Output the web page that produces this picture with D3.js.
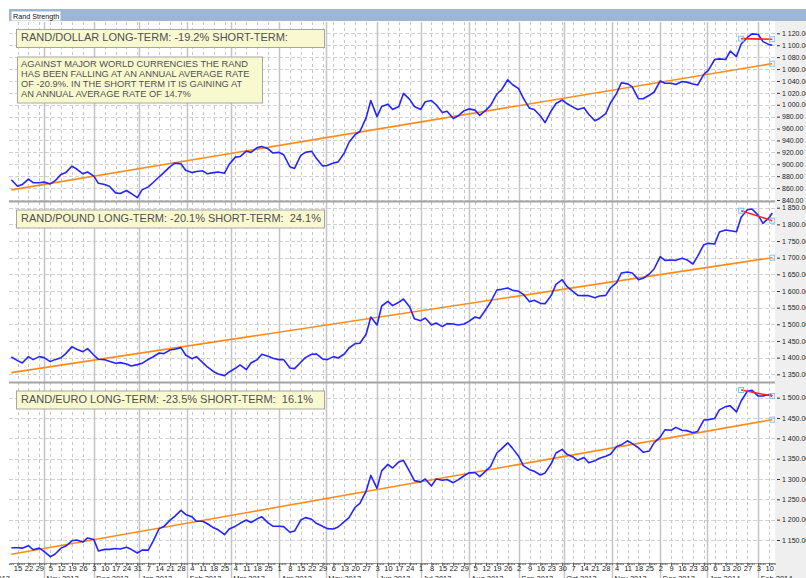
<!DOCTYPE html>
<html>
<head>
<meta charset="utf-8">
<title>Rand Strength</title>
<script src="https://cdn.jsdelivr.net/npm/d3@7"></script>
<style>
  html, body { margin: 0; padding: 0; background: #fff; }
  svg { display: block; font-family: "Liberation Sans", Arial, sans-serif; }
  text { white-space: pre; }
</style>
</head>
<body>
<svg id="chart" width="806" height="578"></svg>
<script>
// sample dates: every Monday and Thursday, plus the last close
const sampleDates = d3.timeDay.range(new Date(2012, 9, 11), new Date(2014, 1, 11))
  .filter(d => d.getDay() === 1 || d.getDay() === 4)
  .concat([new Date(2014, 1, 12)]);

const dollarValues = [
  874, 863, 866, 875, 869, 869, 870, 867, 872, 883,
  886, 897, 892, 884, 887, 880, 868, 866, 863, 852,
  851, 856, 851, 844, 857, 862, 869, 879, 886, 896,
  902, 901, 890, 886, 888, 889, 884, 886, 887, 885,
  900, 912, 913, 922, 920, 928, 930, 926, 919, 920,
  916, 896, 893, 915, 920, 922, 910, 897, 898, 902,
  904, 919, 937, 950, 955, 978, 1007, 980, 997, 1001,
  992, 997, 1019, 1009, 997, 992, 1005, 1007, 1000, 987,
  989, 977, 981, 990, 993, 991, 982, 991, 999, 1018,
  1025, 1042, 1034, 1027, 1011, 994, 992, 981, 970, 990,
  1002, 1008, 1002, 996, 992, 995, 984, 973, 977, 985,
  1003, 1019, 1037, 1035, 1030, 1010, 1010, 1016, 1021, 1040,
  1036, 1036, 1034, 1039, 1038, 1035, 1033, 1051, 1058, 1076,
  1077, 1076, 1090, 1081, 1102, 1113, 1119, 1118, 1106, 1101,
  1100
];

const poundValues = [
  1402, 1391, 1384, 1403, 1394, 1403, 1400, 1388, 1394, 1400,
  1412, 1433, 1425, 1418, 1427, 1408, 1395, 1394, 1389, 1383,
  1385, 1381, 1375, 1379, 1383, 1395, 1402, 1414, 1412, 1423,
  1425, 1430, 1408, 1397, 1403, 1385, 1372, 1358, 1351, 1346,
  1357, 1368, 1378, 1364, 1384, 1394, 1410, 1404, 1398, 1394,
  1394, 1369, 1367, 1386, 1400, 1410, 1411, 1396, 1394, 1403,
  1399, 1411, 1429, 1442, 1443, 1470, 1522, 1498, 1555, 1569,
  1556, 1566, 1576, 1552, 1517, 1511, 1519, 1498, 1504, 1493,
  1502, 1501, 1498, 1501, 1509, 1522, 1518, 1545, 1567, 1603,
  1605, 1609, 1602, 1599, 1590, 1568, 1572, 1563, 1562, 1587,
  1620, 1634, 1614, 1598, 1587, 1586, 1586, 1580, 1585, 1587,
  1609, 1625, 1654, 1657, 1654, 1634, 1638, 1651, 1666, 1703,
  1692, 1693, 1692, 1698, 1694, 1681, 1704, 1739, 1743, 1741,
  1777, 1783, 1781, 1778, 1821, 1844, 1846, 1827, 1803, 1820,
  1834
];

const euroValues = [
  1131, 1131, 1130, 1136, 1126, 1130, 1122, 1109, 1115, 1130,
  1135, 1148, 1150, 1145, 1155, 1151, 1123, 1127, 1127, 1129,
  1128, 1132, 1127, 1118, 1125, 1125, 1146, 1178, 1183, 1199,
  1208, 1223, 1213, 1207, 1196, 1196, 1190, 1180, 1175, 1163,
  1177, 1184, 1191, 1199, 1193, 1202, 1207, 1192, 1184, 1184,
  1183, 1169, 1172, 1199, 1205, 1201, 1191, 1184, 1178, 1177,
  1182, 1195, 1205, 1231, 1240, 1270, 1309, 1277, 1320, 1336,
  1327, 1342, 1346, 1318, 1296, 1293, 1300, 1283, 1300, 1297,
  1299, 1291, 1298, 1308, 1315, 1316, 1306, 1320, 1331, 1364,
  1374, 1389, 1376, 1356, 1333, 1323, 1319, 1310, 1315, 1338,
  1364, 1373, 1361, 1354, 1346, 1353, 1340, 1345, 1351, 1356,
  1361, 1380, 1384, 1394, 1387, 1377, 1366, 1369, 1389, 1403,
  1421, 1420, 1427, 1420, 1419, 1414, 1417, 1445, 1446, 1449,
  1470, 1478, 1480, 1465, 1492, 1516, 1518, 1504, 1504, 1508,
  1504
];

// long-term (orange) and short-term (red) trend end points
const longTermDates = ['2012-10-11', '2014-02-12'];
const shortTermDates = ['2014-01-23', '2014-02-12'];
const dollarLong = [857, 1069];
const poundLong = [1355, 1700];
const euroLong = [1115, 1446];
const dollarShort = [1111, 1110];
const poundShort = [1841, 1811];
const euroShort = [1519, 1504];

const dollarTicks = [840, 860, 880, 900, 920, 940, 960, 980, 1000, 1020, 1040, 1060, 1080, 1100, 1120];
const poundTicks = [1350, 1400, 1450, 1500, 1550, 1600, 1650, 1700, 1750, 1800, 1850];
const euroTicks = [1150, 1200, 1250, 1300, 1350, 1400, 1450, 1500];

const panelTitles = [
  'RAND/DOLLAR LONG-TERM: -19.2% SHORT-TERM:',
  'RAND/POUND LONG-TERM: -20.1% SHORT-TERM:  24.1%',
  'RAND/EURO LONG-TERM: -23.5% SHORT-TERM:  16.1%'
];
const noteLines = [
  'AGAINST MAJOR WORLD CURRENCIES THE RAND',
  'HAS BEEN FALLING AT AN ANNUAL AVERAGE RATE',
  'OF -20.9%. IN THE SHORT TERM IT IS GAINING AT',
  'AN ANNUAL AVERAGE RATE OF 14.7%'
];

const parse = d3.timeParse('%Y-%m-%d');
const svg = d3.select('#chart');
const plotLeft = 9, plotRight = 775, axisY = 563;

// x calibrated on the month lines, then widened to the plot edges
const cal = d3.scaleTime().domain([new Date(2012, 10, 1), new Date(2013, 10, 1)]).range([44, 612]);
const x = d3.scaleTime().domain([cal.invert(plotLeft), cal.invert(plotRight)]).range([plotLeft, plotRight]);

const panels = [
  { title: panelTitles[0], values: dollarValues, long: dollarLong, short: dollarShort, ticks: dollarTicks, top: 22, bottom: 200.5, range: [200, 33.3] },
  { title: panelTitles[1], values: poundValues, long: poundLong, short: poundShort, ticks: poundTicks, top: 202.5, bottom: 381.5, range: [374.3, 207.7] },
  { title: panelTitles[2], values: euroValues, long: euroLong, short: euroShort, ticks: euroTicks, top: 383.5, bottom: axisY, range: [540, 397.7] }
];

const fmt = d => d3.format(',.2f')(d).replace(/,/g, ' ');

// backgrounds
svg.append('rect').attr('width', 806).attr('height', 578).attr('fill', '#fff');
svg.append('rect').attr('x', plotRight).attr('y', 21).attr('width', 806 - plotRight).attr('height', 557).attr('fill', '#efefef');

// title bar
svg.append('rect').attr('x', 9).attr('y', 9).attr('width', 797).attr('height', 12).attr('fill', '#9db6d3');
svg.append('rect').attr('x', 11.5).attr('y', 11.5).attr('width', 49).attr('height', 9).attr('fill', '#fff');
svg.append('text').attr('x', 13).attr('y', 18.6).attr('font-size', 7.2).attr('fill', '#111').text('Rand Strength');

// vertical grid: weekly dotted, monthly solid
const mondays = d3.timeMonday.range(new Date(2012, 9, 15), new Date(2014, 1, 11));
const monthStarts = d3.timeMonth.range(new Date(2012, 9, 1), new Date(2014, 1, 2)).map(m => {
  const d = new Date(m);
  while (d.getDay() === 0 || d.getDay() === 6) d.setDate(d.getDate() + 1);
  return d;
});

const grid = svg.append('g');
grid.selectAll('.wk').data(mondays).enter().append('line')
  .attr('x1', d => Math.round(x(d)) + 0.5).attr('x2', d => Math.round(x(d)) + 0.5)
  .attr('y1', 22).attr('y2', axisY)
  .attr('stroke', '#c6c6c6').attr('stroke-dasharray', '3,3');

panels.forEach(p => {
  const y = d3.scaleLinear().domain([p.ticks[0], p.ticks[p.ticks.length - 1]]).range(p.range);
  p.y = y;
  grid.selectAll(null).data(p.ticks).enter().append('line')
    .attr('x1', plotLeft).attr('x2', plotRight)
    .attr('y1', d => Math.round(y(d)) + 0.5).attr('y2', d => Math.round(y(d)) + 0.5)
    .attr('stroke', '#d2d2d2').attr('stroke-dasharray', '4,2');
});

grid.selectAll('.mo').data(monthStarts.filter(d => x(d) > plotLeft)).enter().append('line')
  .attr('x1', d => Math.round(x(d)) + 0.5).attr('x2', d => Math.round(x(d)) + 0.5)
  .attr('y1', 22).attr('y2', 578)
  .attr('stroke', '#c4c4c4').attr('stroke-width', 1.5);

// panel separators
[201.5, 382.5].forEach(sy => {
  svg.append('line').attr('x1', plotLeft).attr('x2', plotRight).attr('y1', sy).attr('y2', sy)
    .attr('stroke', '#a4a4a4').attr('stroke-width', 2);
});

panels.forEach((p, i) => {
  const y = p.y;
  const clipId = 'clip' + i;
  svg.append('clipPath').attr('id', clipId).append('rect')
    .attr('x', plotLeft).attr('y', p.top).attr('width', plotRight - plotLeft).attr('height', p.bottom - p.top);

  const g = svg.append('g').attr('clip-path', `url(#${clipId})`);
  const series = sampleDates.map((d, k) => ({ date: d, value: p.values[k] }));

  const line = d3.line().x(d => x(d.date)).y(d => y(d.value));

  // long-term trend
  g.append('path')
    .datum(longTermDates.map((d, k) => ({ date: parse(d), value: p.long[k] })))
    .attr('fill', 'none').attr('stroke', '#ff8c1a').attr('stroke-width', 1.6)
    .attr('d', line);

  // price
  g.append('path')
    .datum(series)
    .attr('fill', 'none').attr('stroke', '#2424ff').attr('stroke-width', 1.6)
    .attr('stroke-linejoin', 'round')
    .attr('d', line);

  // short-term trend
  const shortPts = shortTermDates.map((d, k) => ({ date: parse(d), value: p.short[k] }));
  g.append('path')
    .datum(shortPts)
    .attr('fill', 'none').attr('stroke', '#ff1f1f').attr('stroke-width', 1.6)
    .attr('d', line);

  // anchor handles
  const handles = [
    shortPts[0],
    shortPts[1],
    { date: parse(longTermDates[1]), value: p.long[1] }
  ];
  g.selectAll('.handle').data(handles).enter().append('rect')
    .attr('x', d => x(d.date) - 2.5).attr('y', d => y(d.value) - 2.5)
    .attr('width', 5).attr('height', 5)
    .attr('fill', 'none').attr('stroke', '#80bcee').attr('stroke-width', 1);

  // title box
  svg.append('rect')
    .attr('x', 16.5).attr('y', p.top + 7.5).attr('width', 308).attr('height', 18)
    .attr('fill', '#f9f9d0').attr('stroke', '#a6a6a6');
  svg.append('text')
    .attr('x', 21).attr('y', p.top + 19)
    .attr('font-size', 11).attr('fill', '#505050')
    .text(p.title);

  // right value axis
  const ax = svg.append('g')
    .attr('transform', `translate(${plotRight + 2},0)`)
    .call(d3.axisRight(y).tickValues(p.ticks).tickSize(3).tickPadding(2).tickFormat(fmt));
  ax.select('.domain').remove();
  ax.selectAll('line').attr('stroke', '#333');
  ax.selectAll('text').attr('font-size', 7).attr('fill', '#222')
    .attr('font-family', '"Liberation Sans", Arial, sans-serif');
});

// note box in the dollar panel
svg.append('rect')
  .attr('x', 17.5).attr('y', 57).attr('width', 245).attr('height', 46)
  .attr('fill', '#f9f9d0').attr('stroke', '#a6a6a6');
svg.append('g').selectAll('text').data(noteLines).enter().append('text')
  .attr('x', 21).attr('y', (d, k) => 66.5 + k * 10)
  .attr('font-size', 9.3).attr('fill', '#505050')
  .text(d => d);

// time axis
const weekdays = d3.timeDay.range(x.domain()[0], x.domain()[1]).filter(d => d.getDay() > 0 && d.getDay() < 6);
const dayAxis = svg.append('g')
  .attr('transform', `translate(0,${axisY})`)
  .call(d3.axisBottom(x).tickValues(weekdays).tickSize(2).tickFormat(''));
dayAxis.select('.domain').attr('stroke', '#9a9a9a');
dayAxis.selectAll('line').attr('stroke', '#777');

const weekAxis = svg.append('g')
  .attr('transform', `translate(0,${axisY})`)
  .call(d3.axisBottom(x).tickValues(mondays).tickSize(3).tickPadding(0).tickFormat(d3.timeFormat('%-d')));
weekAxis.select('.domain').remove();
weekAxis.selectAll('line').attr('stroke', '#555');
weekAxis.selectAll('text').attr('font-size', 7.5).attr('fill', '#222')
  .attr('font-family', '"Liberation Sans", Arial, sans-serif');

svg.append('g').selectAll('text').data(monthStarts).enter().append('text')
  .attr('x', d => x(d) > plotLeft ? x(d) + 2.5 : 10)
  .attr('text-anchor', d => x(d) > plotLeft ? 'start' : 'end')
  .attr('y', 580.5)
  .attr('font-size', 7.5).attr('fill', '#222')
  .text(d3.timeFormat('%b %Y'));
</script>
</body>
</html>
